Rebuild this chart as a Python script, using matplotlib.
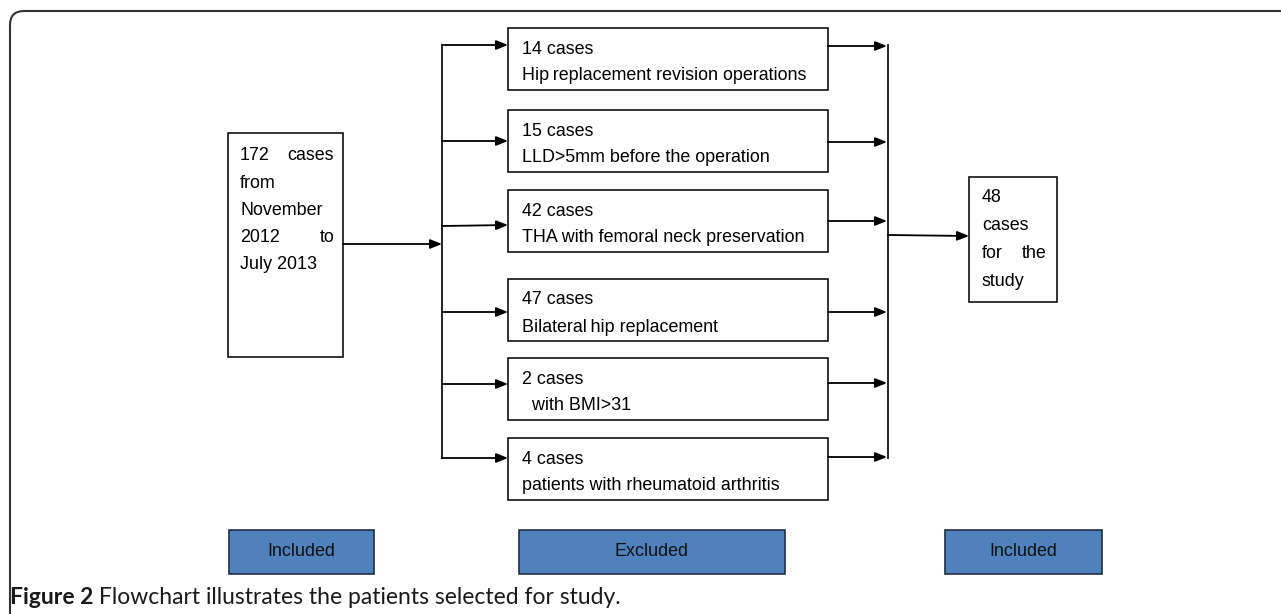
import matplotlib.pyplot as plt
from matplotlib.patches import Rectangle, FancyBboxPatch

# Flowchart content
start_lines = [("172", "cases"), ("from", ""), ("November", ""), ("2012", "to"), ("July 2013", "")]
excluded_counts = ["14 cases", "15 cases", "42 cases", "47 cases", "2 cases", "4 cases"]
excluded_reasons = ["Hip\u2009replacement revision operations", "LLD>5mm before the operation",
                    "THA with femoral neck preservation", "Bilateral\u2009hip replacement",
                    "  with BMI>31", "patients with rheumatoid arthritis"]
final_lines = [("48", ""), ("cases", ""), ("for", "the"), ("study", "")]
stage_labels = ["Included", "Excluded", "Included"]
caption_bold = "Figure 2"
caption_text = " Flowchart illustrates the patients selected for study."

# layout (pixels)
box_tops = [28, 110, 190, 279, 358, 438]
box_h = 62
in_y = [45, 141, 226, 312, 384, 458]
out_y = [46, 142, 221, 312, 383, 457]
stage_x = [(229, 374), (519, 785), (945, 1102)]

fig = plt.figure(figsize=(12.81, 6.14), dpi=100)
ax = fig.add_axes([0, 0, 1, 1])
ax.set_xlim(0, 1281)
ax.set_ylim(614, 0)
ax.axis('off')

font = 'Liberation Sans'
fs = 12.9
lc = '#111111'
cap_font = 'Lato'

def arrow(x0, y0, x1, y1):
    ax.annotate('', xy=(x1, y1), xytext=(x0, y0),
                arrowprops=dict(arrowstyle='-|>,head_length=0.7,head_width=0.28',
                                color='black', lw=1.3, shrinkA=0, shrinkB=0))

# outer frame with rounded corner
ax.add_patch(FancyBboxPatch((10, 11), 1400, 700, boxstyle='round,pad=0,rounding_size=14',
                            fill=False, ec='#333333', lw=1.5))

# start box
ax.add_patch(Rectangle((228, 133), 115, 224, fill=False, ec=lc, lw=1.2))
for i, (a, b) in enumerate(start_lines):
    y = 156 + i * 27.2
    ax.text(240, y, a, fontsize=fs, family=font, va='center', ha='left')
    if b:
        ax.text(334, y, b, fontsize=fs, family=font, va='center', ha='right')
arrow(343, 244, 442, 244)

# left trunk
ax.plot([442, 442], [45, 458], color=lc, lw=1.3)
# right trunk
ax.plot([888, 888], [45, 458], color=lc, lw=1.3)

# exclusion boxes
for top, c, r, yi, yo in zip(box_tops, excluded_counts, excluded_reasons, in_y, out_y):
    ax.add_patch(Rectangle((508, top), 320, box_h, fill=False, ec=lc, lw=1.2))
    ax.text(522, top + 21, c, fontsize=fs, family=font, va='center', ha='left')
    ax.text(522, top + 48, r, fontsize=fs, family=font, va='center', ha='left')
    arrow(442, yi, 508, yi - (1 if yi == 226 else 0))
    arrow(828, yo, 887, yo)

arrow(888, 235, 969, 236)

# final box
ax.add_patch(Rectangle((969, 177), 88, 125, fill=False, ec=lc, lw=1.2))
for i, (a, b) in enumerate(final_lines):
    y = 198 + i * 27.7
    ax.text(982, y, a, fontsize=fs, family=font, va='center', ha='left')
    if b:
        ax.text(1046, y, b, fontsize=fs, family=font, va='center', ha='right')

# stage labels
for (x0, x1), lab in zip(stage_x, stage_labels):
    ax.add_patch(Rectangle((x0, 530), x1 - x0, 44, fc='#4F81BD', ec='#1F2F44', lw=1.2))
    ax.text((x0 + x1) / 2, 551, lab, fontsize=fs, family=font, va='center', ha='center', color='#111111')

# caption
t = ax.text(10, 597, caption_bold, fontsize=16.5, family=cap_font, weight='bold',
            va='center', ha='left', color='#1a1a1a')
fig.canvas.draw()
bb = t.get_window_extent()
x_next = ax.transData.inverted().transform((bb.x1, 0))[0]
ax.text(x_next, 597, caption_text, fontsize=16.5, family=cap_font,
        va='center', ha='left', color='#1a1a1a')

fig.savefig('out.png', dpi=100)
